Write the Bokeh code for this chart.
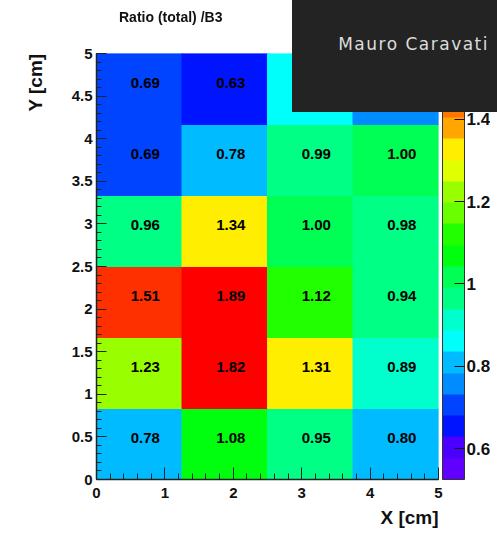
from bokeh.plotting import figure
from bokeh.models import (LinearColorMapper, ColorBar, FixedTicker, ColumnDataSource,
                          Title, Div, Range1d)
from bokeh.core.properties import value
from bokeh.embed import file_html
from bokeh.resources import INLINE

# ---- data -------------------------------------------------------------
x_edges = [0.0, 1.25, 2.5, 3.75, 5.0]
y_edges = [0.0, 5 / 6, 10 / 6, 2.5, 20 / 6, 25 / 6, 5.0]

# ratio values per row of bins, bottom row first (left -> right)
row_y0 = [0.784, 1.08, 0.95, 0.80]
row_y1 = [1.23, 1.82, 1.31, 0.89]
row_y2 = [1.506, 1.89, 1.12, 0.94]
row_y3 = [0.96, 1.34, 1.00, 0.98]
row_y4 = [0.69, 0.784, 0.99, 1.00]
row_y5 = [0.69, 0.63, 0.86, 0.76]   # last two hidden under the banner
rows = [row_y0, row_y1, row_y2, row_y3, row_y4, row_y5]

x_ticks = [0, 1, 2, 3, 4, 5]
x_tick_labels = ["0", "1", "2", "3", "4", "5"]
y_ticks = [0, 0.5, 1, 1.5, 2, 2.5, 3, 3.5, 4, 4.5, 5]
y_tick_labels = ["0", "0.5", "1", "1.5", "2", "2.5", "3", "3.5", "4", "4.5", "5"]
z_ticks = [0.6, 0.8, 1.0, 1.2, 1.4]
z_tick_labels = ["0.6", "0.8", "1", "1.2", "1.4"]
z_low, z_high = 0.525, 1.56

palette = ["#6200ff", "#4b00ff", "#0014ff", "#0044ff", "#008bff", "#00bbff",
           "#00fffb", "#00ffcc", "#00ff85", "#00ff55", "#00ff0e", "#22ff00",
           "#69ff00", "#99ff00", "#e0ff00", "#ffee00", "#ffa700", "#ff7700",
           "#ff3000", "#ff1000"]

title_text = "Ratio (total) /B3"
x_title = "X [cm]"
y_title = "Y [cm]"
banner_text = "Mauro Caravati"

# ---- build table ------------------------------------------------------
left, right, bottom, top, vals, labels, xc, yc = [], [], [], [], [], [], [], []
for j, row in enumerate(rows):
    for i, v in enumerate(row):
        left.append(x_edges[i]); right.append(x_edges[i + 1])
        bottom.append(y_edges[j]); top.append(y_edges[j + 1])
        xc.append((x_edges[i] + x_edges[i + 1]) / 2)
        yc.append((y_edges[j] + y_edges[j + 1]) / 2)
        vals.append(v); labels.append(f"{v:.2f}")
src = ColumnDataSource(dict(left=left, right=right, bottom=bottom, top=top,
                            value=vals, label=labels, xc=xc, yc=yc))

mapper = LinearColorMapper(palette=palette, low=z_low, high=z_high,
                           high_color="#ff0000", low_color=palette[0])

FONT = "Liberation Sans"

p = figure(frame_width=342, frame_height=426,
           x_range=Range1d(x_edges[0], x_edges[-1]),
           y_range=Range1d(y_edges[0], y_edges[-1]),
           output_backend="svg", toolbar_location=None,
           min_border_left=95, min_border_top=53, min_border_right=52,
           min_border_bottom=55)
p.grid.visible = False
p.outline_line_color = None
p.background_fill_color = "white"
p.border_fill_color = "white"

p.quad(left="left", right="right", bottom="bottom", top="top", source=src,
       fill_color={"field": "value", "transform": mapper},
       line_color={"field": "value", "transform": mapper}, line_width=1)
p.text(x="xc", y="yc", text="label", source=src, text_align="center",
       text_baseline="middle", text_font=value(FONT), text_font_style="bold",
       text_font_size="15px", text_color="black", x_offset=6, y_offset=-6)

# axes
p.xaxis.ticker = FixedTicker(ticks=x_ticks, minor_ticks=[k * 0.2 for k in range(26)])
p.yaxis.ticker = FixedTicker(ticks=y_ticks, minor_ticks=[k * 0.1 for k in range(51)])
p.xaxis.major_label_overrides = {float(t): l for t, l in zip(x_ticks, x_tick_labels)}
p.yaxis.major_label_overrides = {float(t): l for t, l in zip(y_ticks, y_tick_labels)}
for ax, mj, mn in ((p.xaxis[0], 12, 6), (p.yaxis[0], 10, 5)):
    ax.major_tick_in = mj
    ax.major_tick_out = 0
    ax.minor_tick_in = mn
    ax.minor_tick_out = 0
    ax.axis_line_color = "#222222"
    ax.axis_line_width = 1.5
    ax.major_tick_line_color = "#222222"
    ax.minor_tick_line_color = "#222222"
    ax.major_label_text_font = FONT
    ax.major_label_text_font_style = "bold"
    ax.major_label_text_font_size = "15px"
    ax.major_label_text_color = "#111111"
p.yaxis.major_label_standoff = 4
p.xaxis.major_label_standoff = 8

# no built-in title (it is drawn as a fixed page element below)
p.title.text = ""

yt = Title(text=y_title, align="right", text_font=FONT, text_font_style="bold",
           text_font_size="19px", text_color="#111111", standoff=45)
p.add_layout(yt, "left")
xt = Title(text=x_title, align="right", text_font=FONT, text_font_style="bold",
           text_font_size="19px", text_color="#111111", standoff=9)
p.add_layout(xt, "below")

# colour bar
cb = ColorBar(color_mapper=mapper, location=(346, 0), width=22, height=426,
              padding=0, margin=0, ticker=FixedTicker(ticks=z_ticks),
              major_label_overrides={float(t): l for t, l in zip(z_ticks, z_tick_labels)},
              major_tick_in=10, major_tick_out=0, major_tick_line_color="#111111",
              minor_tick_line_color=None, label_standoff=2,
              major_label_text_font=FONT, major_label_text_font_style="bold",
              major_label_text_font_size="17px", major_label_text_color="#111111",
              bar_line_color="#333333", bar_line_width=1,
              background_fill_alpha=0, border_line_color=None)
p.add_layout(cb, "center")

title_div = Div(text=title_text, width=200, height=18, margin=0,
                styles={"position": "fixed", "left": "119px", "top": "8px",
                        "width": "200px", "height": "18px", "margin": "0px",
                        "color": "#111111", "font-family": FONT,
                        "font-weight": "bold", "font-size": "14px",
                        "line-height": "18px", "white-space": "nowrap",
                        "z-index": "50"})

banner_html = ('<span style="position:absolute; right:8px; top:32px; '
               'white-space:nowrap;">' + banner_text + '</span>')
banner = Div(text=banner_html, width=205, height=112, margin=0,
             styles={"position": "fixed", "left": "292px", "top": "0px",
                     "width": "205px", "height": "112px", "margin": "0px",
                     "background-color": "#232323", "color": "#dcdcdc",
                     "font-family": "DejaVu Sans", "font-size": "17px",
                     "letter-spacing": "1.5px", "z-index": "100"})

open("out.html", "w").write(file_html([p, title_div, banner], INLINE))
